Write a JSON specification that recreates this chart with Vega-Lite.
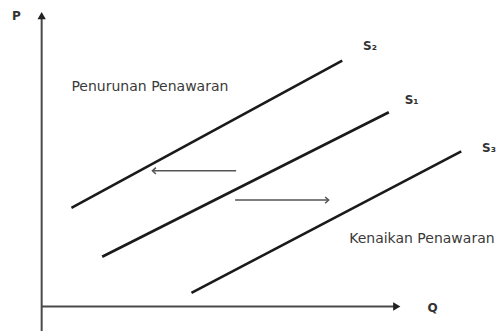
{
  "$schema": "https://vega.github.io/schema/vega-lite/v6.json",
  "width": 496,
  "height": 335,
  "padding": 0,
  "autosize": {"type": "fit", "contains": "padding"},
  "background": "white",
  "config": {"view": {"stroke": null}},
  "datasets": {
    "supply": [
      {"curve": "S2", "Q": 3.0, "P": 10.1},
      {"curve": "S2", "Q": 30.3, "P": 25.2},
      {"curve": "S1", "Q": 6.1, "P": 5.1},
      {"curve": "S1", "Q": 35.0, "P": 19.9},
      {"curve": "S3", "Q": 15.1, "P": 1.4},
      {"curve": "S3", "Q": 42.3, "P": 15.9}
    ],
    "axes": [
      {"axis": "P", "Q": 0, "P": -2.5},
      {"axis": "P", "Q": 0, "P": 29.8},
      {"axis": "Q", "Q": 0, "P": 0},
      {"axis": "Q", "Q": 35.8, "P": 0}
    ],
    "axisHeads": [
      {"Q": 0, "P": 29.8, "angle": 0},
      {"Q": 35.8, "P": 0, "angle": 90}
    ],
    "shifts": [
      {"shift": "kiri", "Q": 19.6, "P": 13.9},
      {"shift": "kiri", "Q": 11.2, "P": 13.9},
      {"shift": "kanan", "Q": 19.5, "P": 10.9},
      {"shift": "kanan", "Q": 28.9, "P": 10.9}
    ],
    "shiftHeads": [
      {"Q": 11.2, "P": 13.9, "angle": 0},
      {"Q": 28.9, "P": 10.9, "angle": 180}
    ],
    "notes": [
      {"label": "Penurunan Penawaran", "Q": 3.0, "P": 22.5},
      {"label": "Kenaikan Penawaran", "Q": 31.0, "P": 6.9}
    ],
    "names": [
      {"label": "S₂", "Q": 32.4, "P": 26.7},
      {"label": "S₁", "Q": 36.6, "P": 21.2},
      {"label": "S₃", "Q": 44.4, "P": 16.2},
      {"label": "P", "Q": -3.0, "P": 29.8},
      {"label": "Q", "Q": 38.9, "P": -0.2}
    ]
  },
  "encoding": {
    "x": {"field": "Q", "type": "quantitative", "axis": null, "scale": {"domain": [-4.2, 45.4], "nice": false, "zero": false}},
    "y": {"field": "P", "type": "quantitative", "axis": null, "scale": {"domain": [-2.1, 31.4], "nice": false, "zero": false}}
  },
  "layer": [
    {
      "data": {"name": "axes"},
      "mark": {"type": "line", "color": "#4a4a4a", "strokeWidth": 2},
      "encoding": {"detail": {"field": "axis"}}
    },
    {
      "data": {"name": "axisHeads"},
      "mark": {"type": "point", "shape": "triangle-up", "filled": true, "color": "#222222", "opacity": 1, "size": 70},
      "encoding": {"angle": {"field": "angle", "type": "quantitative", "scale": null}}
    },
    {
      "data": {"name": "supply"},
      "mark": {"type": "line", "color": "#1a1a1a", "strokeWidth": 2.6},
      "encoding": {"detail": {"field": "curve"}}
    },
    {
      "data": {"name": "shifts"},
      "mark": {"type": "line", "color": "#555555", "strokeWidth": 1.5},
      "encoding": {"detail": {"field": "shift"}}
    },
    {
      "data": {"name": "shiftHeads"},
      "mark": {"type": "point", "shape": "M 1 -1 L -0.1 0 L 1 1", "filled": false, "color": "#555555", "strokeWidth": 1.5, "opacity": 1, "size": 40},
      "encoding": {"angle": {"field": "angle", "type": "quantitative", "scale": null}}
    },
    {
      "data": {"name": "notes"},
      "mark": {"type": "text", "align": "left", "baseline": "middle", "font": "DejaVu Sans", "fontSize": 14, "color": "#3a3a3a"},
      "encoding": {"text": {"field": "label"}}
    },
    {
      "data": {"name": "names"},
      "mark": {"type": "text", "align": "left", "baseline": "middle", "font": "DejaVu Sans", "fontSize": 12, "fontWeight": "bold", "color": "#333333"},
      "encoding": {"text": {"field": "label"}}
    }
  ]
}
